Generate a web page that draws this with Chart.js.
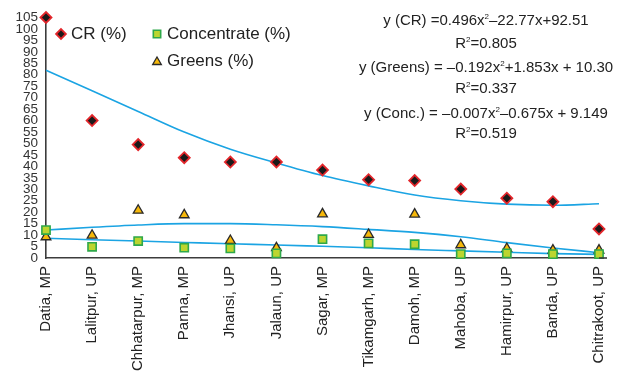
<!DOCTYPE html>
<html>
<head>
<meta charset="utf-8">
<script src="https://cdn.jsdelivr.net/npm/chart.js@4/dist/chart.umd.min.js"></script>
<style>
  html, body { margin: 0; padding: 0; background: #fff; }
  #wrap { position: relative; width: 625px; height: 373px; overflow: hidden; }
  canvas { position: absolute; left: 0; top: 0; }
  .eq { position: absolute; left: 486px; transform: translateX(-50%); text-align: center; white-space: nowrap;
        font-family: "Liberation Sans", Arial, sans-serif; font-size: 15px; color: #222; line-height: 16px; }
  .eq sup { font-size: 8px; vertical-align: 0; position: relative; top: -6px; }
</style>
</head>
<body>
<div id="wrap">
  <canvas id="c" width="625" height="373"></canvas>
  <div class="eq" style="top:12px">y (CR) =0.496x<sup>2</sup>–22.77x+92.51</div>
  <div class="eq" style="top:35px">R<sup>2</sup>=0.805</div>
  <div class="eq" style="top:59px">y (Greens) = –0.192x<sup>2</sup>+1.853x + 10.30</div>
  <div class="eq" style="top:80px">R<sup>2</sup>=0.337</div>
  <div class="eq" style="top:105px">y (Conc.) = –0.007x<sup>2</sup>–0.675x + 9.149</div>
  <div class="eq" style="top:125px">R<sup>2</sup>=0.519</div>
</div>
<script>
const categories = ['Datia, MP','Lalitpur, UP','Chhatarpur, MP','Panna, MP','Jhansi, UP','Jalaun, UP','Sagar, MP','Tikamgarh, MP','Damoh, MP','Mahoba, UP','Hamirpur, UP','Banda, UP','Chitrakoot, UP'];
const crValues = [105, 60, 49.5, 43.8, 41.9, 41.9, 38.4, 34.2, 33.8, 30.1, 26.1, 24.6, 12.7];
const concentrateValues = [12.2, 4.9, 7.4, 4.5, 4.2, 2.0, 8.2, 6.4, 6.0, 1.7, 2.0, 1.7, 1.7];
const greensValues = [9.2, 9.9, 20.8, 18.8, 7.6, 4.4, 19.2, 10.2, 19.1, 5.7, 4.1, 3.4, 3.4];
const crTrend = [82, 73, 64, 55, 47.5, 41.5, 36, 31.5, 27.5, 25, 23.5, 23, 23.7];
const greensTrend = [12.2, 13.4, 14.4, 15, 15, 14.5, 13.7, 12.5, 11.2, 9.3, 6.7, 4.4, 2.3];
const concTrend = [8.6, 8.0, 7.4, 6.8, 6.2, 5.7, 5.1, 4.5, 3.7, 3.1, 2.5, 1.9, 1.6];
const yTicks = [0,5,10,15,20,25,30,35,40,45,50,55,60,65,70,75,80,85,90,95,100,105];

const FONT = '"Liberation Sans", Arial, sans-serif';
const AXIS = '#3c3c3c';
const TREND = '#1ba4e3';

const styles = {
  cr: { pointStyle: 'rectRot', radius: 5.5, bg: '#1a1a1a', border: '#e3262b', bw: 1.8 },
  conc: { pointStyle: 'rect', radius: 5.8, bg: '#bcd52f', border: '#2ea84a', bw: 1.6 },
  greens: { pointStyle: 'triangle', radius: 5.6, bg: '#f6b80a', border: '#2a2a2a', bw: 1.3 }
};

function pointDs(label, data, s) {
  return { label, data, type: 'line', showLine: false, clip: false, pointStyle: s.pointStyle,
    pointRadius: s.radius, pointBackgroundColor: s.bg, pointBorderColor: s.border,
    pointBorderWidth: s.bw, pointHoverRadius: s.radius };
}
function trendDs(label, data) {
  return { label, data, type: 'line', borderColor: TREND, borderWidth: 1.6, pointRadius: 0,
    cubicInterpolationMode: 'monotone', fill: false };
}

const legendPlugin = {
  id: 'customLegend',
  afterDraw(chart) {
    const ctx = chart.ctx;
    const items = [
      { s: styles.cr, text: 'CR (%)', x: 61, y: 34 },
      { s: styles.conc, text: 'Concentrate (%)', x: 157, y: 34 },
      { s: styles.greens, text: 'Greens (%)', x: 157, y: 61 }
    ];
    ctx.save();
    items.forEach(it => {
      ctx.fillStyle = it.s.bg; ctx.strokeStyle = it.s.border; ctx.lineWidth = it.s.bw;
      Chart.helpers.drawPoint(ctx, { pointStyle: it.s.pointStyle, radius: it.s.radius - 0.6, rotation: 0, borderWidth: it.s.bw }, it.x, it.y + (it.s.pointStyle === 'triangle' ? 1 : 0));
      ctx.fillStyle = '#222'; ctx.font = '17px ' + FONT; ctx.textBaseline = 'middle'; ctx.textAlign = 'left';
      ctx.fillText(it.text, it.x + 10, it.y);
    });
    const a = chart.chartArea;
    ctx.strokeStyle = AXIS; ctx.lineWidth = 1.6;
    ctx.beginPath(); ctx.moveTo(a.right, a.bottom); ctx.lineTo(a.right + 8, a.bottom); ctx.stroke();
    ctx.restore();
  }
};

new Chart(document.getElementById('c'), {
  type: 'line',
  data: {
    labels: categories,
    datasets: [
      pointDs('CR (%)', crValues, styles.cr),
      pointDs('Concentrate (%)', concentrateValues, styles.conc),
      pointDs('Greens (%)', greensValues, styles.greens),
      trendDs('CR trend', crTrend),
      trendDs('Greens trend', greensTrend),
      trendDs('Concentrate trend', concTrend)
    ]
  },
  options: {
    responsive: false,
    animation: false,
    layout: { padding: { top: 17.5, right: 9, left: 0, bottom: 0 } },
    plugins: { legend: { display: false }, tooltip: { enabled: false } },
    scales: {
      x: {
        type: 'category',
        offset: false,
        grid: { display: false, drawTicks: false },
        border: { display: true, color: AXIS, width: 1.6 },
        ticks: { autoSkip: false, maxRotation: 90, minRotation: 90, padding: 8,
          font: { family: FONT, size: 15 }, color: '#222' },
        afterFit(scale) { scale.height = 115; }
      },
      y: {
        min: 0, max: 105,
        grid: { display: false, drawTicks: false },
        border: { display: true, color: AXIS, width: 1.6 },
        afterBuildTicks(scale) { scale.ticks = yTicks.map(v => ({ value: v })); },
        ticks: { autoSkip: false, padding: 8, font: { family: FONT, size: 13.5 }, color: '#333' },
        afterFit(scale) { scale.width = 46; }
      }
    }
  },
  plugins: [legendPlugin]
});
</script>
</body>
</html>
